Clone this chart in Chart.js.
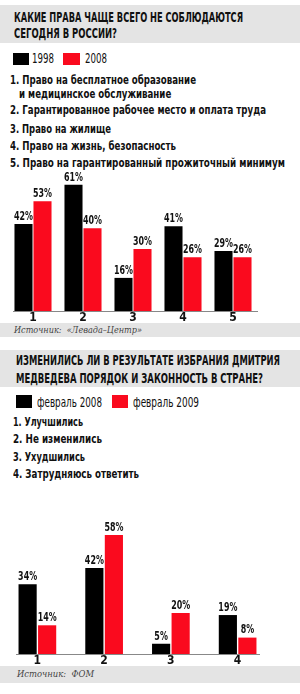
<!DOCTYPE html>
<html><head><meta charset="utf-8">
<script src="https://cdn.jsdelivr.net/npm/chart.js@4/dist/chart.umd.min.js"></script>
<style>
html,body{margin:0;padding:0;background:#fff;}
body{width:300px;height:694px;position:relative;overflow:hidden;}
.band{position:absolute;left:0;width:300px;background:#e4e4e4;}
.t{position:absolute;white-space:nowrap;transform-origin:0 50%;font-family:'Liberation Sans Narrow','DejaVu Sans Condensed','DejaVu Sans',sans-serif;color:#111;line-height:14px;height:14px;}
.h{font-weight:bold;font-size:13.5px;}
.l{font-weight:bold;font-size:12.5px;}
.g{font-weight:normal;font-size:13.5px;}
.s{font-family:'DejaVu Serif','Liberation Serif',serif;font-style:italic;font-size:10px;color:#444;}
.sq{position:absolute;}
canvas{position:absolute;left:0;}
</style></head><body>
<div class="band" style="top:5px;height:38px"></div>
<div class="band" style="top:323px;height:14px"></div>
<div class="band" style="top:350px;height:37px"></div>
<div class="band" style="top:666px;height:17px"></div>

<div class="t h" style="left:14px;top:10px" data-w="229">КАКИЕ ПРАВА ЧАЩЕ ВСЕГО НЕ СОБЛЮДАЮТСЯ</div>
<div class="t h" style="left:14px;top:26px" data-w="103">СЕГОДНЯ В РОССИИ?</div>
<div class="sq" style="left:13px;top:53px;width:16px;height:12px;background:#000"></div>
<div class="t g" style="left:32px;top:51px" data-w="22">1998</div>
<div class="sq" style="left:63px;top:53px;width:17px;height:12px;background:#fa0a1e"></div>
<div class="t g" style="left:85px;top:51px" data-w="22">2008</div>
<div class="t l" id="r1" style="left:10px;top:73px" data-w="186">1. Право на бесплатное образование</div>
<div class="t l" style="left:19px;top:87px" data-like="r1">и медицинское обслуживание</div>
<div class="t l" style="left:10px;top:103px" data-w="256">2. Гарантированное рабочее место и оплата труда</div>
<div class="t l" style="left:10px;top:122px" data-w="101">3. Право на жилище</div>
<div class="t l" style="left:10px;top:139px" data-w="166">4. Право на жизнь, безопасность</div>
<div class="t l" style="left:10px;top:156px" data-w="275">5. Право на гарантированный прожиточный минимум</div>
<div class="t s" style="left:14px;top:323px" data-w="128">Источник:&nbsp;&nbsp;«Левада–Центр»</div>

<div class="t h" style="left:16px;top:353px" data-w="264">ИЗМЕНИЛИСЬ ЛИ В РЕЗУЛЬТАТЕ ИЗБРАНИЯ ДМИТРИЯ</div>
<div class="t h" style="left:16px;top:371px" data-w="247">МЕДВЕДЕВА ПОРЯДОК И ЗАКОННОСТЬ В СТРАНЕ?</div>
<div class="sq" style="left:16px;top:395px;width:16px;height:13px;background:#000"></div>
<div class="t g" style="left:37px;top:395px" data-w="65">февраль 2008</div>
<div class="sq" style="left:112px;top:395px;width:16px;height:13px;background:#fa0a1e"></div>
<div class="t g" style="left:133px;top:395px" data-w="66">февраль 2009</div>
<div class="t l" style="left:13px;top:415px" data-w="70">1. Улучшились</div>
<div class="t l" style="left:13px;top:432px" data-w="89">2. Не изменились</div>
<div class="t l" style="left:13px;top:450px" data-w="72">3. Ухудшились</div>
<div class="t l" style="left:13px;top:467px" data-w="126">4. Затрудняюсь ответить</div>
<div class="t s" style="left:17px;top:667px" data-w="77">Источник:&nbsp;&nbsp;ФОМ</div>

<canvas id="c1" width="300" height="180" style="top:150px;width:300px;height:180px"></canvas>
<canvas id="c2" width="300" height="190" style="top:490px;width:300px;height:190px"></canvas>

<script>
// ---- data ----
const rightsCategories = ['1', '2', '3', '4', '5'];
const rights1998 = [42, 61, 16, 41, 29];
const rights2008 = [53, 40, 30, 26, 26];

const orderCategories = ['1', '2', '3', '4'];
const orderFeb2008 = [34, 42, 5, 19];
const orderFeb2009 = [14, 58, 20, 8];

// ---- text fitting ----
const scales = {};
document.querySelectorAll('.t[data-w]').forEach(el => {
  const w = el.getBoundingClientRect().width;
  const target = parseFloat(el.dataset.w);
  const s = w > 0 ? target / w : 1;
  if (el.id) scales[el.id] = s;
  el.style.transform = 'scaleX(' + s + ')';
});
document.querySelectorAll('.t[data-like]').forEach(el => {
  el.style.transform = 'scaleX(' + (scales[el.dataset.like] || 1) + ')';
});

const RED = '#fa0a1e';
const FONT = '"Liberation Sans Narrow", "DejaVu Sans Condensed", "DejaVu Sans", sans-serif';

const valueLabels = {
  id: 'valueLabels',
  afterDatasetsDraw(chart) {
    const ctx = chart.ctx;
    const area = chart.chartArea;
    const inset = chart.options.plugins.valueLabels.axisInset;
    ctx.save();
    // baseline axis line
    ctx.strokeStyle = '#888';
    ctx.lineWidth = 1;
    ctx.beginPath();
    ctx.moveTo(area.left + inset[0], Math.round(area.bottom) + 0.5);
    ctx.lineTo(area.right - inset[1], Math.round(area.bottom) + 0.5);
    ctx.stroke();
    // value labels
    ctx.font = 'bold 13px ' + FONT;
    ctx.fillStyle = '#111';
    ctx.textAlign = 'center';
    ctx.textBaseline = 'bottom';
    const sx = 19 / ctx.measureText('61%').width;
    chart.data.datasets.forEach((ds, i) => {
      chart.getDatasetMeta(i).data.forEach((bar, j) => {
        ctx.save();
        ctx.translate(bar.x, bar.y - 1);
        ctx.scale(sx, 1);
        ctx.fillText(ds.data[j] + '%', 0, 0);
        ctx.restore();
      });
    });
    ctx.restore();
  }
};

function makeChart(id, labels, a, b, opts) {
  return new Chart(document.getElementById(id), {
    type: 'bar',
    data: {
      labels: labels,
      datasets: [
        { data: a, backgroundColor: '#000', categoryPercentage: opts.cat, barPercentage: opts.bar },
        { data: b, backgroundColor: RED, categoryPercentage: opts.cat, barPercentage: opts.bar }
      ]
    },
    options: {
      responsive: false,
      animation: false,
      layout: { padding: opts.pad },
      plugins: {
        legend: { display: false },
        tooltip: { enabled: false },
        valueLabels: { axisInset: opts.inset }
      },
      scales: {
        x: {
          grid: { display: false, drawTicks: false },
          border: { display: false },
          ticks: { color: '#111', padding: 0, font: { family: FONT, size: 12, weight: 'bold' } },
          afterFit: s => { s.height = 14; }
        },
        y: { display: false, min: 0, max: opts.max }
      }
    },
    plugins: [valueLabels]
  });
}

makeChart('c1', rightsCategories, rights1998, rights2008,
  { cat: 0.76, bar: 0.95, max: 77.8, inset: [5, 0], pad: { left: 8, right: 42, top: 0, bottom: 5 } });
makeChart('c2', orderCategories, orderFeb2008, orderFeb2009,
  { cat: 0.585, bar: 0.93, max: 80, inset: [12, 11], pad: { left: 4, right: 29, top: 0, bottom: 12 } });
</script>
</body></html>
